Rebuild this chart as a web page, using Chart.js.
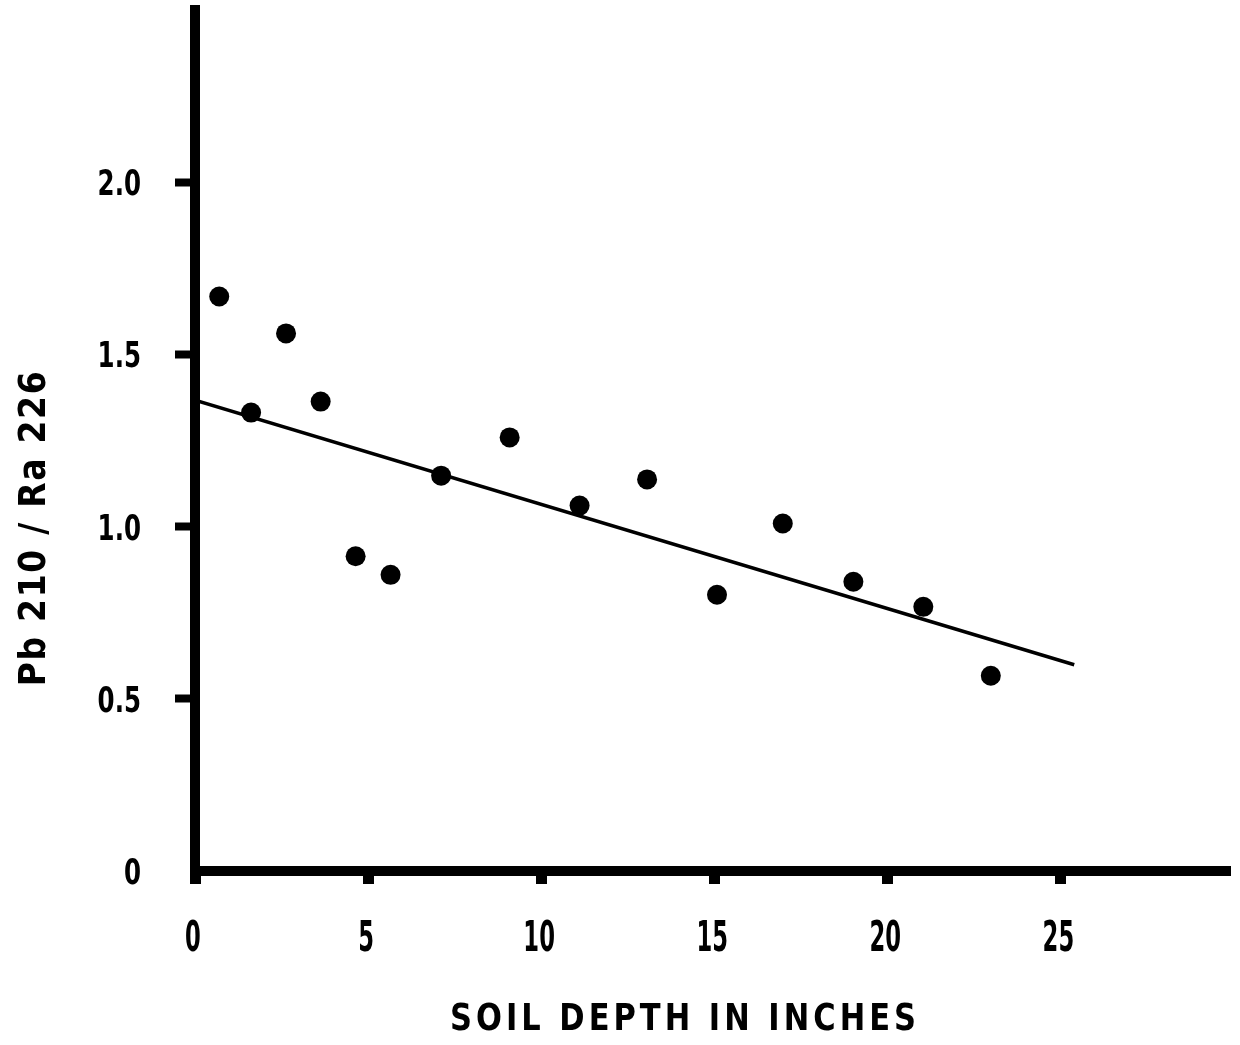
<!DOCTYPE html>
<html>
<head>
<meta charset="utf-8">
<script src="https://cdn.jsdelivr.net/npm/chart.js@4.4.0/dist/chart.umd.min.js"></script>
<style>body{margin:0;background:#fff}</style>
</head>
<body>
<canvas id="grafico" width="1240" height="1045"></canvas>
<script>
// dados
var depth = [0.70, 1.62, 2.63, 3.63, 4.64, 5.65, 7.11, 9.09, 11.11, 13.06, 15.08, 16.98, 19.02, 21.04, 22.99];
var ratio = [1.668, 1.331, 1.561, 1.363, 0.914, 0.860, 1.148, 1.259, 1.061, 1.137, 0.802, 1.009, 0.840, 0.767, 0.567];
var fitDepth = [0, 25.4];
var fitRatio = [1.367, 0.599];
var xTicks = [0, 5, 10, 15, 20, 25];
var xTickLabels = ['0', '5', '10', '15', '20', '25'];
var yTicks = [0, 0.5, 1, 1.5, 2];
var yTickLabels = ['0', '0.5', '1.0', '1.5', '2.0'];
var xTitle = 'SOIL DEPTH IN INCHES';
var yTitle = 'Pb 210 / Ra 226';

var fonte = '"DejaVu Sans", sans-serif';

function texto(ctx, str, x, y, size, sx, align, spacing, rot) {
  ctx.save();
  ctx.font = 'bold ' + size + 'px ' + fonte;
  ctx.letterSpacing = (spacing || 0) + 'px';
  ctx.translate(x, y);
  if (rot) ctx.rotate(rot);
  ctx.scale(sx, 1);
  ctx.textAlign = align;
  ctx.textBaseline = 'alphabetic';
  ctx.fillStyle = '#000';
  ctx.fillText(str, 0, 0);
  ctx.restore();
}

// escala horizontal para o texto caber numa largura
function escala(ctx, str, size, spacing, largura) {
  ctx.save();
  ctx.font = 'bold ' + size + 'px ' + fonte;
  ctx.letterSpacing = spacing + 'px';
  var w = ctx.measureText(str).width - spacing;
  ctx.restore();
  return largura / w;
}

var rotulos = {
  id: 'rotulos',
  afterDraw: function(chart) {
    var ctx = chart.ctx, sx = chart.scales.x, sy = chart.scales.y;
    sx.ticks.forEach(function(t, i) {
      texto(ctx, xTickLabels[i], sx.getPixelForValue(t.value) - 2, 951, 42, 0.54, 'center');
    });
    sy.ticks.forEach(function(t, i) {
      texto(ctx, yTickLabels[i], 141, sy.getPixelForValue(t.value) + 13, 35, 0.7, 'right');
    });
    var k = escala(ctx, xTitle, 38, 5, 466);
    texto(ctx, xTitle, 685, 1030, 38, k, 'center', 5);
    var k2 = escala(ctx, yTitle, 38, 2, 315);
    texto(ctx, yTitle, 45, 528, 38, k2, 'center', 2, -Math.PI / 2);
  }
};

var pontos = depth.map(function(d, i) { return {x: d, y: ratio[i]}; });
var reta = fitDepth.map(function(d, i) { return {x: d, y: fitRatio[i]}; });

new Chart(document.getElementById('grafico'), {
  type: 'scatter',
  data: {
    datasets: [{
      data: pontos,
      backgroundColor: '#000',
      borderWidth: 0,
      pointRadius: 10
    }, {
      data: reta,
      showLine: true,
      borderColor: '#000',
      borderWidth: 3.5,
      pointRadius: 0
    }]
  },
  options: {
    responsive: false,
    animation: false,
    layout: { padding: { top: 8, right: 2, left: 0, bottom: 0 } },
    plugins: { legend: { display: false }, tooltip: { enabled: false } },
    scales: {
      x: {
        type: 'linear', min: 0, max: 29.9,
        afterBuildTicks: function(s) { s.ticks = xTicks.map(function(v) { return {value: v}; }); },
        afterFit: function(s) { s.height = 174; },
        ticks: { display: false },
        grid: { drawOnChartArea: false, tickLength: 13, tickWidth: 11, tickColor: '#000' },
        border: { width: 10, color: '#000' }
      },
      y: {
        type: 'linear', min: 0, max: 2.5,
        afterBuildTicks: function(s) { s.ticks = yTicks.map(function(v) { return {value: v}; }); },
        afterFit: function(s) { s.width = 195; },
        ticks: { display: false },
        grid: {
          drawOnChartArea: false, tickLength: 20, tickWidth: 8,
          tickColor: function(c) { return c.tick && c.tick.value === 0 ? 'rgba(0,0,0,0)' : '#000'; }
        },
        border: { width: 10, color: '#000' }
      }
    }
  },
  plugins: [rotulos]
});
</script>
</body>
</html>
